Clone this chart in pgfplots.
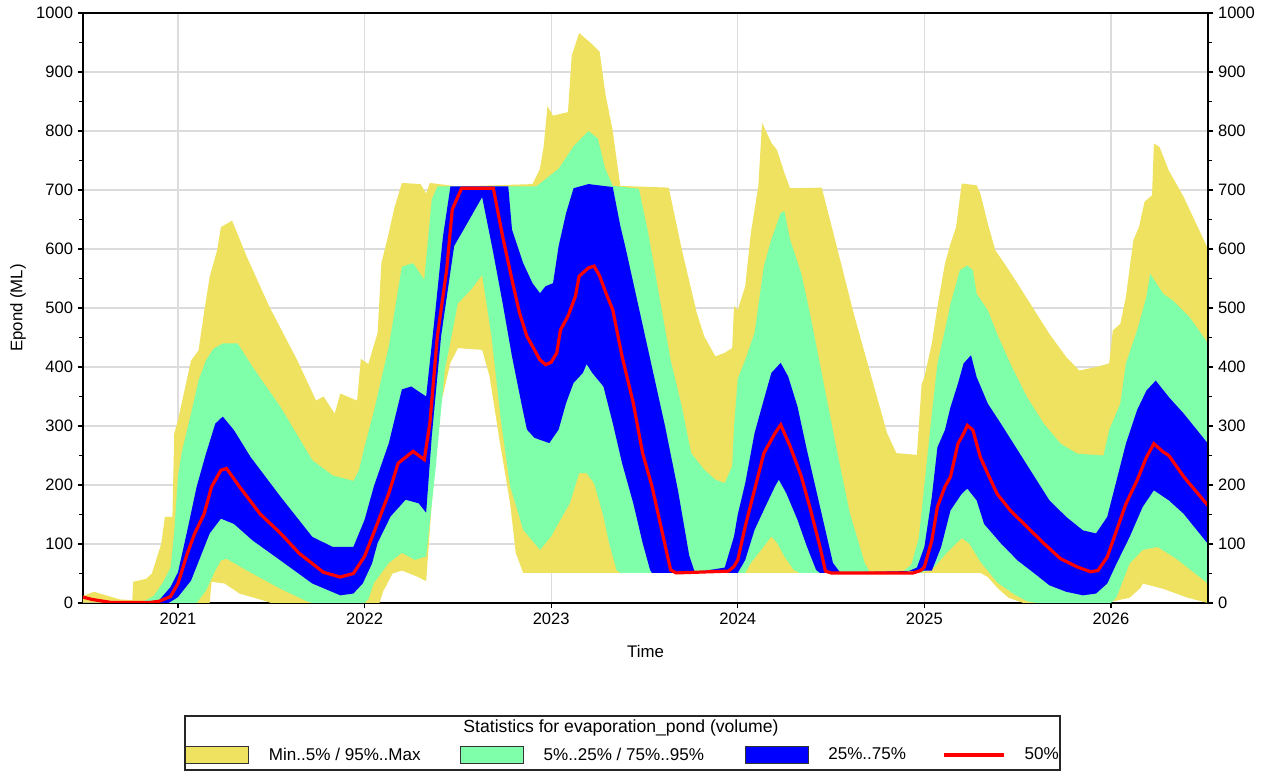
\documentclass[border=0pt]{standalone}
\usepackage{pgfplots}
\pgfplotsset{compat=1.18}
\usepgfplotslibrary{fillbetween}
\usepackage{fontspec}
\setmainfont{Liberation Sans}

\definecolor{cyel}{RGB}{238,226,96}
\definecolor{cgrn}{RGB}{128,255,170}
\definecolor{cblu}{RGB}{0,0,255}
\definecolor{cred}{RGB}{255,0,0}
\definecolor{gridc}{RGB}{220,220,220}

\newcommand\tickfont{\fontsize{12.4}{14}\selectfont}
\newcommand\labfont{\fontsize{12.6}{14}\selectfont}
\newcommand\legfont{\fontsize{12.8}{15}\selectfont}
\newcommand\headfont{\fontsize{13.2}{15}\selectfont}

\pgfplotsset{
  frame/.style={
    at={(0,0)}, anchor=south west,
    width=843.75pt, height=442.5pt, scale only axis,
    xmin=2020.491, xmax=2026.52, ymin=0, ymax=1000,
    ytick={0,100,...,1000}, minor y tick num=1,
    tick align=outside,
    major tick length=4pt, minor tick length=3pt,
    every tick/.style={black, line width=0.9pt},
    axis line style={black, line width=1pt},
    tick label style={font=\tickfont, black},
    /pgf/number format/assume math mode=true,
    /pgf/number format/1000 sep={},
  },
  areaimg/.style={legend image code/.code={
      \draw[fill=#1, draw=black!80, line width=0.6pt] (0pt,-6.5pt) rectangle (47.25pt,6.5pt);
      \path (62.25pt,0pt);}},
}

\begin{document}
\begin{tikzpicture}
\begin{axis}[
  frame,
  ytick pos=left, xtick pos=bottom,
  xtick={2021,2022,2023,2024,2025,2026},
  xticklabels={2021,2022,2023,2024,2025,2026},
  grid=major,
  major grid style={gridc, line width=1pt},
  xlabel={Time}, ylabel={Epond (ML)},
  xlabel style={font=\labfont, at={(axis description cs:0.5,-0.083)}, anchor=center},
  ylabel style={font=\labfont, at={(axis description cs:-0.0578,0.5)}, anchor=center},
  legend columns=4,
  legend style={at={(axis description cs:0.0907,-0.2576)}, anchor=west,
    draw=none, fill=none, inner sep=0pt, column sep=0pt,
    font=\legfont, nodes={inner xsep=0pt}},
  legend cell align=left,
]

% outer band: Min / Max
\addplot[draw=none, forget plot, name path=pmax] coordinates {
(2020.491,12) (2020.55,19) (2020.69,6) (2020.755,5) (2020.76,36) (2020.83,41)
(2020.86,50) (2020.91,100) (2020.93,146) (2020.97,146) (2020.98,287) (2021.00,310)
(2021.07,411) (2021.11,428) (2021.14,493) (2021.17,553) (2021.21,598) (2021.23,637)
(2021.29,648) (2021.37,586) (2021.49,502) (2021.64,411) (2021.74,343) (2021.78,350)
(2021.84,321) (2021.87,355) (2021.96,343) (2021.98,414) (2022.02,405) (2022.07,458)
(2022.09,576) (2022.12,614) (2022.16,670) (2022.20,712) (2022.30,710) (2022.33,694)
(2022.35,712) (2022.50,706) (2022.70,708) (2022.90,710) (2022.94,736) (2022.96,774)
(2022.98,842) (2023.01,826) (2023.09,832) (2023.11,928) (2023.15,966) (2023.22,947)
(2023.26,934) (2023.29,864) (2023.33,800) (2023.37,707) (2023.63,704) (2023.70,599)
(2023.78,492) (2023.82,452) (2023.88,418) (2023.93,424) (2023.97,432) (2023.98,503)
(2024.00,497) (2024.04,537) (2024.07,627) (2024.11,706) (2024.13,814) (2024.18,780)
(2024.21,768) (2024.25,729) (2024.28,703) (2024.45,704) (2024.53,605) (2024.62,492)
(2024.71,390) (2024.80,288) (2024.85,254) (2024.96,251) (2024.985,370) (2025.00,383)
(2025.04,440) (2025.07,502) (2025.11,575) (2025.14,609) (2025.17,637) (2025.20,711)
(2025.28,708) (2025.30,694) (2025.34,643) (2025.38,598) (2025.43,575) (2025.50,541)
(2025.59,496) (2025.67,456) (2025.76,417) (2025.83,394) (2025.92,400) (2025.99,406)
(2026.01,462) (2026.05,473) (2026.08,519) (2026.12,615) (2026.15,637) (2026.18,680)
(2026.22,691) (2026.23,779) (2026.26,773) (2026.31,733) (2026.39,688) (2026.52,600)
};
\addplot[draw=none, forget plot, name path=pmin] coordinates {
(2020.491,0) (2021.17,0) (2021.18,36) (2021.25,33) (2021.33,16) (2021.45,5)
(2021.50,0) (2022.08,0) (2022.10,20) (2022.15,50) (2022.20,55) (2022.28,45)
(2022.33,37) (2022.36,169) (2022.41,339) (2022.46,407) (2022.50,432) (2022.63,429)
(2022.67,384) (2022.72,282) (2022.78,169) (2022.81,85) (2022.85,51) (2025.30,51)
(2025.34,44) (2025.39,26) (2025.45,9) (2025.53,0) (2026.00,2) (2026.10,9)
(2026.16,26) (2026.17,33) (2026.28,24) (2026.41,9) (2026.52,0)
};
% middle band: 5% / 95%
\addplot[draw=none, forget plot, name path=p95] coordinates {
(2020.491,0) (2020.78,0) (2020.83,5) (2020.87,12) (2020.92,35) (2020.96,60)
(2020.98,120) (2021.00,215) (2021.02,255) (2021.07,321) (2021.11,377) (2021.15,411)
(2021.19,431) (2021.24,440) (2021.32,440) (2021.40,400) (2021.55,332) (2021.72,242)
(2021.83,216) (2021.94,207) (2021.97,225) (2022.00,265) (2022.05,325) (2022.13,435)
(2022.20,570) (2022.26,576) (2022.32,548) (2022.36,684) (2022.39,706) (2022.92,706)
(2023.04,736) (2023.12,774) (2023.20,800) (2023.25,787) (2023.29,736) (2023.33,707)
(2023.47,702) (2023.52,627) (2023.57,537) (2023.64,412) (2023.70,333) (2023.75,254)
(2023.82,226) (2023.88,209) (2023.93,203) (2023.97,232) (2023.98,300) (2024.00,380)
(2024.04,412) (2024.09,458) (2024.14,571) (2024.18,616) (2024.23,661) (2024.25,664)
(2024.28,616) (2024.34,559) (2024.39,486) (2024.46,373) (2024.53,260) (2024.60,153)
(2024.68,68) (2024.71,51) (2024.88,52) (2024.93,65) (2024.97,110) (2025.00,200)
(2025.04,321) (2025.07,406) (2025.11,462) (2025.14,507) (2025.19,564) (2025.23,572)
(2025.26,564) (2025.28,524) (2025.34,496) (2025.39,456) (2025.46,406) (2025.55,349)
(2025.64,304) (2025.73,270) (2025.82,253) (2025.96,250) (2025.99,293) (2026.05,338)
(2026.08,406) (2026.14,462) (2026.19,519) (2026.21,558) (2026.28,524) (2026.33,513)
(2026.42,485) (2026.52,440)
};
\addplot[draw=none, forget plot, name path=p05] coordinates {
(2020.491,0) (2021.10,0) (2021.15,21) (2021.20,55) (2021.23,72) (2021.26,75)
(2021.37,55) (2021.55,24) (2021.69,3) (2021.72,0) (2022.00,0) (2022.02,6)
(2022.05,34) (2022.13,68) (2022.20,85) (2022.27,73) (2022.33,79) (2022.38,226)
(2022.43,395) (2022.50,508) (2022.57,531) (2022.63,556) (2022.68,452) (2022.73,311)
(2022.78,198) (2022.85,124) (2022.94,90) (2023.00,113) (2023.04,136) (2023.10,169)
(2023.15,220) (2023.19,220) (2023.23,203) (2023.28,147) (2023.31,102) (2023.35,56)
(2023.37,51) (2024.04,51) (2024.07,68) (2024.14,96) (2024.18,113) (2024.21,102)
(2024.25,79) (2024.30,56) (2024.33,51) (2024.98,51) (2025.05,60) (2025.12,85)
(2025.20,110) (2025.24,101) (2025.30,70) (2025.39,35) (2025.48,15) (2025.55,3)
(2025.60,0) (2026.00,0) (2026.03,10) (2026.10,67) (2026.17,90) (2026.25,95)
(2026.35,75) (2026.52,33)
};
% inner band: 25% / 75%
\addplot[draw=none, forget plot, name path=p75] coordinates {
(2020.491,0) (2020.82,0) (2020.90,5) (2020.96,27) (2021.00,52) (2021.05,123)
(2021.10,197) (2021.15,253) (2021.20,304) (2021.24,316) (2021.30,293) (2021.39,247)
(2021.55,180) (2021.72,112) (2021.83,95) (2021.94,95) (2021.97,118) (2022.00,141)
(2022.05,198) (2022.13,271) (2022.20,362) (2022.25,367) (2022.33,350) (2022.38,497)
(2022.42,621) (2022.46,706) (2022.77,706) (2022.79,633) (2022.85,576) (2022.90,542)
(2022.94,525) (2022.97,537) (2023.01,542) (2023.04,605) (2023.08,661) (2023.12,703)
(2023.20,710) (2023.33,705) (2023.37,640) (2023.40,600) (2023.47,500) (2023.54,400)
(2023.61,300) (2023.68,190) (2023.74,80) (2023.77,52) (2023.93,60) (2023.98,113)
(2024.00,150) (2024.04,203) (2024.09,288) (2024.14,345) (2024.18,390) (2024.23,407)
(2024.27,384) (2024.32,333) (2024.37,260) (2024.44,164) (2024.51,68) (2024.55,51)
(2024.90,52) (2024.96,60) (2025.00,95) (2025.04,180) (2025.07,264) (2025.11,293)
(2025.14,332) (2025.18,372) (2025.21,406) (2025.25,420) (2025.28,383) (2025.34,338)
(2025.41,304) (2025.50,259) (2025.59,214) (2025.67,174) (2025.76,146) (2025.85,123)
(2025.92,118) (2025.98,146) (2026.03,208) (2026.08,270) (2026.14,327) (2026.19,360)
(2026.24,377) (2026.31,349) (2026.39,321) (2026.52,270)
};
\addplot[draw=none, forget plot, name path=p25] coordinates {
(2020.491,0) (2020.95,0) (2021.00,10) (2021.07,38) (2021.12,78) (2021.17,118)
(2021.23,143) (2021.30,134) (2021.40,106) (2021.55,72) (2021.72,33) (2021.87,13)
(2021.94,16) (2021.99,33) (2022.04,67) (2022.07,102) (2022.14,147) (2022.22,175)
(2022.29,169) (2022.33,153) (2022.36,282) (2022.41,452) (2022.48,605) (2022.54,638)
(2022.63,688) (2022.69,593) (2022.74,508) (2022.79,418) (2022.84,339) (2022.87,294)
(2022.91,280) (2022.99,271) (2023.04,294) (2023.08,339) (2023.12,373) (2023.17,390)
(2023.19,405) (2023.22,390) (2023.28,367) (2023.33,305) (2023.38,237) (2023.44,169)
(2023.49,102) (2023.53,56) (2023.54,51) (2024.00,51) (2024.04,73) (2024.09,124)
(2024.14,158) (2024.20,198) (2024.22,209) (2024.26,186) (2024.32,141) (2024.37,96)
(2024.42,56) (2024.44,51) (2025.04,55) (2025.09,95) (2025.14,157) (2025.20,185)
(2025.23,194) (2025.28,174) (2025.32,134) (2025.41,101) (2025.50,72) (2025.59,50)
(2025.67,30) (2025.76,19) (2025.85,13) (2025.92,16) (2025.98,33) (2026.03,67)
(2026.10,112) (2026.17,163) (2026.23,191) (2026.31,174) (2026.39,151) (2026.52,100)
};

\addplot[fill=cyel, draw=none, forget plot] fill between[of=pmax and pmin];
\addplot[fill=cgrn, draw=none, forget plot] fill between[of=p95 and p05];
\addplot[fill=cblu, draw=none, forget plot] fill between[of=p75 and p25];

% median
\addplot[cred, line width=2.4pt, forget plot] coordinates {
(2020.491,10) (2020.54,6) (2020.64,1) (2020.85,1) (2020.90,3) (2020.96,11)
(2021.00,33) (2021.05,84) (2021.09,118) (2021.14,151) (2021.18,197) (2021.23,225)
(2021.26,228) (2021.33,197) (2021.44,151) (2021.55,118) (2021.65,84) (2021.78,52)
(2021.87,44) (2021.94,50) (2022.00,79) (2022.07,136) (2022.13,186) (2022.18,237)
(2022.26,257) (2022.32,243) (2022.35,305) (2022.39,452) (2022.44,565) (2022.47,667)
(2022.52,703) (2022.69,703) (2022.74,621) (2022.79,548) (2022.83,492) (2022.87,452)
(2022.90,435) (2022.94,412) (2022.97,404) (2023.00,408) (2023.03,424) (2023.05,463)
(2023.09,486) (2023.13,520) (2023.15,554) (2023.20,568) (2023.23,571) (2023.26,554)
(2023.30,520) (2023.33,497) (2023.38,418) (2023.44,339) (2023.49,254) (2023.54,198)
(2023.60,113) (2023.64,56) (2023.67,51) (2023.95,54) (2023.98,62) (2024.00,73)
(2024.04,130) (2024.09,192) (2024.14,254) (2024.20,288) (2024.23,302) (2024.28,266)
(2024.34,215) (2024.39,158) (2024.44,96) (2024.47,54) (2024.50,51) (2024.94,51)
(2024.98,55) (2025.00,61) (2025.04,106) (2025.07,163) (2025.11,197) (2025.14,214)
(2025.18,270) (2025.21,287) (2025.23,301) (2025.26,293) (2025.30,247) (2025.34,219)
(2025.39,185) (2025.46,157) (2025.55,129) (2025.64,101) (2025.73,75) (2025.82,61)
(2025.89,53) (2025.93,55) (2025.98,78) (2026.03,123) (2026.08,168) (2026.14,208)
(2026.19,247) (2026.23,270) (2026.28,256) (2026.31,250) (2026.39,214) (2026.52,165)
};

\addlegendimage{areaimg=cyel}
\addlegendentry{\makebox[143.25pt][l]{Min..5\% / 95\%..Max}}
\addlegendimage{areaimg=cgrn}
\addlegendentry{\makebox[150.75pt][l]{5\%..25\% / 75\%..95\%}}
\addlegendimage{areaimg=cblu}
\addlegendentry{\makebox[85.5pt][l]{25\%..75\%}}
\addlegendimage{legend image code/.code={\draw[cred, line width=3pt] (0pt,0pt) -- (45pt,0pt); \path (60pt,0pt);}}
\addlegendentry{50\%}
\end{axis}

% right-hand value scale
\begin{axis}[
  frame,
  axis x line=none, axis y line*=right,
]
\end{axis}

% legend frame and heading
\draw[black!85, line width=0.8pt]
  ([shift={(76.5pt,-84.75pt)}]current axis.south west) rectangle
  ([shift={(732.75pt,-125.25pt)}]current axis.south west);
\node[font=\headfont] at ([shift={(403.5pt,-94pt)}]current axis.south west)
  {Statistics for evaporation\_pond (volume)};

\path ([shift={(-62.25pt,-126pt)}]current axis.south west) rectangle
  ([shift={(45.75pt,9.75pt)}]current axis.north east);
\end{tikzpicture}
\end{document}
